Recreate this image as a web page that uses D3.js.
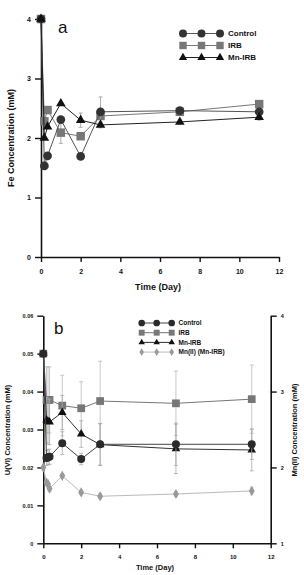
<!DOCTYPE html>
<html>
<head>
<meta charset="utf-8">
<script src="https://cdn.jsdelivr.net/npm/d3@7"></script>
<style>
  body { margin: 0; background: #fff; }
  svg { display: block; font-family: "Liberation Sans", Arial, sans-serif; font-weight: bold; }
</style>
</head>
<body>
<svg id="chart" width="304" height="575"></svg>
<script>
// Panel a: Fe concentration (mM)
const timeA = [0, 0.17, 0.33, 1, 2, 3, 7, 11];
const feControl = [4.0, 1.53, 1.70, 2.31, 1.69, 2.44, 2.46, 2.44];
const feIRB = [4.0, 2.28, 2.47, 2.09, 2.03, 2.37, 2.44, 2.57];
const feMnIRB = [4.0, 2.0, 2.19, 2.58, 2.30, 2.22, 2.27, 2.35];
const feErrControl = [0, 0, 0, 0.05, 0, 0.25, 0.04, 0.04];
const feErrIRB = [0, 0, 0, 0.18, 0, 0.05, 0.03, 0.03];
const feErrMnIRB = [0, 0, 0, 0, 0.12, 0.05, 0.03, 0.05];

// Panel b: U(VI) concentration (mM) and Mn(II) (mM, right axis)
const timeB = [0, 0.17, 0.25, 0.33, 1, 2, 3, 7, 11];
const uControl = [0.05, 0.0225, 0.0227, 0.0228, 0.0264, 0.0222, 0.0261, 0.0261, 0.0261];
const uIRB = [0.05, 0.0378, 0.0378, 0.0378, 0.0363, 0.0356, 0.0375, 0.0369, 0.038];
const uMnIRB = [0.05, 0.0325, 0.0321, 0.032, 0.0345, 0.0288, 0.026, 0.0249, 0.0246];
const mnII = [2.0, 1.8, 1.78, 1.72, 1.89, 1.67, 1.62, 1.65, 1.69];
const uErrControl = [0, 0.002, 0.002, 0.002, 0.003, 0.0015, 0.0055, 0.0056, 0.004];
const uErrIRB = [0, 0.0087, 0.0087, 0.0087, 0.008, 0.007, 0.0105, 0.0085, 0.009];
const uErrMnIRB = [0, 0.006, 0.006, 0.006, 0.0045, 0.0035, 0.0055, 0.0065, 0.0055];
const mnErr = [0, 0.03, 0.03, 0.03, 0.03, 0.03, 0.03, 0.03, 0.05];

const xTicks = [0, 2, 4, 6, 8, 10, 12];
const feTicks = [0, 1, 2, 3, 4];
const uTicks = [0, 0.01, 0.02, 0.03, 0.04, 0.05, 0.06];
const mnTicks = [1, 2, 3, 4];

const svg = d3.select("#chart");
const intFmt = d3.format("d");

function axisStyle(g, size) {
  g.selectAll("path.domain").attr("stroke", "#111").attr("stroke-width", 1.6);
  g.selectAll(".tick line").attr("stroke", "#111").attr("stroke-width", 1.4);
  g.selectAll(".tick text").attr("fill", "#111").attr("font-size", size)
    .attr("font-weight", "bold").attr("font-family", "Liberation Sans, Arial, sans-serif");
}

function drawSeries(g, x, y, xs, ys, errs, opt) {
  // error bars
  const eb = g.append("g").attr("stroke", opt.errColor).attr("stroke-width", 0.8);
  xs.forEach((t, i) => {
    if (!errs || !errs[i]) return;
    const cx = x(t), y1 = y(ys[i] + errs[i]), y2 = y(ys[i] - errs[i]);
    eb.append("line").attr("x1", cx).attr("x2", cx).attr("y1", y1).attr("y2", y2);
    eb.append("line").attr("x1", cx - 2).attr("x2", cx + 2).attr("y1", y1).attr("y2", y1);
    eb.append("line").attr("x1", cx - 2).attr("x2", cx + 2).attr("y1", y2).attr("y2", y2);
  });
  const line = d3.line().x((d, i) => x(xs[i])).y((d) => y(d));
  g.append("path").datum(ys).attr("d", line).attr("fill", "none")
    .attr("stroke", opt.lineColor).attr("stroke-width", opt.lineWidth || 1);
  g.selectAll(null).data(ys).enter().append("path")
    .attr("transform", (d, i) => `translate(${x(xs[i])},${y(d)})`)
    .attr("d", d3.symbol().type(opt.symbol).size(opt.size))
    .attr("fill", opt.fill);
}

function legend(g, items, x0, x1, xt, y0, dy, fs) {
  items.forEach((it, i) => {
    const yy = y0 + i * dy;
    g.append("line").attr("x1", x0).attr("x2", x1).attr("y1", yy).attr("y2", yy)
      .attr("stroke", it.lineColor).attr("stroke-width", 1);
    [x0, (x0 + x1) / 2, x1].forEach((xx) => {
      g.append("path").attr("transform", `translate(${xx},${yy})`)
        .attr("d", d3.symbol().type(it.symbol).size(it.size)).attr("fill", it.fill);
    });
    g.append("text").attr("x", xt).attr("y", yy).attr("dy", "0.35em")
      .attr("font-size", fs).attr("fill", "#111").text(it.label);
  });
}

// ---------- Panel a ----------
const xA = d3.scaleLinear().domain([0, 12]).range([41, 279]);
const yA = d3.scaleLinear().domain([0, 4]).range([257, 19]);

const gA = svg.append("g");
gA.append("g").attr("transform", "translate(0,257)")
  .call(d3.axisBottom(xA).tickValues(xTicks).tickFormat(intFmt).tickSize(5).tickPadding(7).tickSizeOuter(0))
  .call((g) => axisStyle(g, 7));
gA.append("g").attr("transform", "translate(41,0)")
  .call(d3.axisLeft(yA).tickValues(feTicks).tickFormat(intFmt).tickSize(6).tickPadding(4).tickSizeOuter(0))
  .call((g) => axisStyle(g, 7));

const styleA = {
  control: { symbol: d3.symbolCircle, size: 60, fill: "#333", lineColor: "#555", errColor: "#999" },
  irb: { symbol: d3.symbolSquare, size: 72, fill: "#777", lineColor: "#777", errColor: "#999" },
  mnirb: { symbol: d3.symbolTriangle, size: 40, fill: "#111", lineColor: "#222", errColor: "#999" }
};
drawSeries(gA, xA, yA, timeA, feIRB, feErrIRB, styleA.irb);
drawSeries(gA, xA, yA, timeA, feControl, feErrControl, styleA.control);
drawSeries(gA, xA, yA, timeA, feMnIRB, feErrMnIRB, styleA.mnirb);

gA.append("text").attr("x", 58).attr("y", 33).attr("font-size", 17)
  .attr("font-weight", "normal").attr("fill", "#111").text("a");
gA.append("text").attr("x", 158).attr("y", 290).attr("text-anchor", "middle")
  .attr("font-size", 9).attr("fill", "#111").text("Time (Day)");
gA.append("text").attr("transform", "translate(14,138) rotate(-90)")
  .attr("text-anchor", "middle").attr("font-size", 9).attr("fill", "#111")
  .text("Fe Concentration (mM)");

legend(gA, [
  { label: "Control", ...styleA.control, size: 50 },
  { label: "IRB", ...styleA.irb, size: 55 },
  { label: "Mn-IRB", ...styleA.mnirb, size: 30 }
], 183, 220, 228, 33.5, 12, 8);

// ---------- Panel b ----------
const xB = d3.scaleLinear().domain([0, 12]).range([43.3, 270.7]);
const yB = d3.scaleLinear().domain([0, 0.06]).range([543.3, 315.7]);
const yMn = d3.scaleLinear().domain([1, 4]).range([543.3, 315.7]);

const gB = svg.append("g");
gB.append("g").attr("transform", "translate(0,543.3)")
  .call(d3.axisBottom(xB).tickValues(xTicks).tickFormat(intFmt).tickSize(5).tickPadding(6).tickSizeOuter(0))
  .call((g) => axisStyle(g, 6));
gB.append("g").attr("transform", "translate(43.3,0)")
  .call(d3.axisLeft(yB).tickValues(uTicks).tickFormat((d) => d === 0 ? "0" : d3.format(".2f")(d))
    .tickSize(6).tickPadding(4).tickSizeOuter(0))
  .call((g) => axisStyle(g, 5.5));
gB.append("g").attr("transform", "translate(270.7,0)")
  .call(d3.axisRight(yMn).tickValues(mnTicks).tickFormat(intFmt).tickSize(6).tickPadding(4).tickSizeOuter(0))
  .call((g) => axisStyle(g, 5.5));

const styleB = {
  control: { symbol: d3.symbolCircle, size: 50, fill: "#2a2a2a", lineColor: "#444", errColor: "#aaa" },
  irb: { symbol: d3.symbolSquare, size: 60, fill: "#777", lineColor: "#777", errColor: "#bbb" },
  mnirb: { symbol: d3.symbolTriangle, size: 32, fill: "#111", lineColor: "#333", errColor: "#aaa" },
  mn: { symbol: d3.symbolDiamond, size: 30, fill: "#999", lineColor: "#bbb", errColor: "#ccc" }
};
drawSeries(gB, xB, yB, timeB, uIRB, uErrIRB, styleB.irb);
drawSeries(gB, xB, yB, timeB, uMnIRB, uErrMnIRB, styleB.mnirb);
drawSeries(gB, xB, yB, timeB, uControl, uErrControl, styleB.control);
drawSeries(gB, xB, yMn, timeB, mnII, mnErr, styleB.mn);

gB.append("text").attr("x", 54).attr("y", 334).attr("font-size", 17)
  .attr("font-weight", "normal").attr("fill", "#111").text("b");
gB.append("text").attr("x", 155).attr("y", 570).attr("text-anchor", "middle")
  .attr("font-size", 7.5).attr("fill", "#111").text("Time (Day)");
gB.append("text").attr("transform", "translate(10,430) rotate(-90)")
  .attr("text-anchor", "middle").attr("font-size", 7.5).attr("fill", "#111")
  .text("U(VI) Concentration (mM)");
gB.append("text").attr("transform", "translate(297,430) rotate(-90)")
  .attr("text-anchor", "middle").attr("font-size", 7.5).attr("fill", "#111")
  .text("Mn(II) Concentration (mM)");

legend(gB, [
  { label: "Control", ...styleB.control, size: 35 },
  { label: "IRB", ...styleB.irb, size: 35 },
  { label: "Mn-IRB", ...styleB.mnirb, size: 18 },
  { label: "Mn(II) (Mn-IRB)", ...styleB.mn, size: 18 }
], 141.7, 171.7, 178.5, 323, 9.7, 6.5);
</script>
</body>
</html>
